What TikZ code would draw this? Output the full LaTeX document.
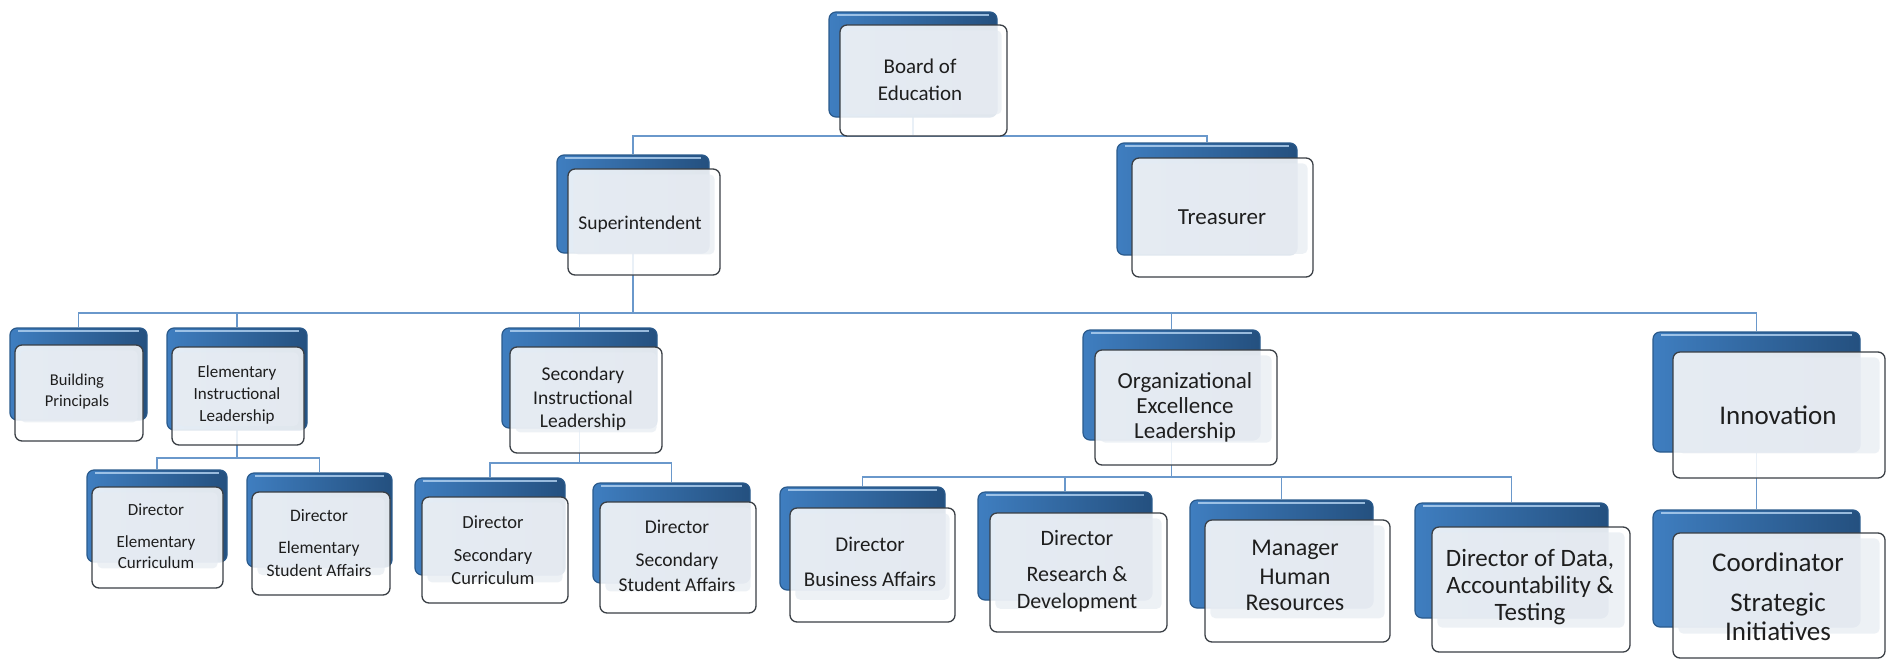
\documentclass[tikz,border=0pt]{standalone}
\usepackage{fontspec}
\setmainfont{Carlito}
\usetikzlibrary{backgrounds}
\definecolor{cardleft}{HTML}{3F7EC0}
\definecolor{cardmid}{HTML}{69A3DA}
\definecolor{cardright}{HTML}{24507F}
\definecolor{cardedge}{HTML}{2A5A8C}
\definecolor{hilitecol}{HTML}{B5D4F2}
\definecolor{frontedge}{HTML}{3A3F45}
\definecolor{panelfill}{HTML}{E6EBF2}
\definecolor{linkblue}{HTML}{6A98CB}
\definecolor{textcol}{HTML}{1E1E1E}
\tikzset{
  backcard/.style={rounded corners=7pt, left color=cardleft, middle color=cardmid, right color=cardright, draw=cardedge, line width=1.2pt, inner sep=0pt},
  hilite/.style={draw=hilitecol, line width=2pt, draw opacity=0.8},
  frontcard/.style={rounded corners=7pt, fill=white, fill opacity=0.86, draw=frontedge, line width=1.3pt, inner sep=0pt},
  panel/.style={rounded corners=5pt, fill=panelfill, fill opacity=0.7},
  link/.style={draw=linkblue, line width=1.6pt},
  lbl/.style={text=textcol, align=center, inner sep=0pt},
}
% #1 name, #2-#5 back card x1 y1 x2 y2, #6-#9 front card x1 y1 x2 y2
\newcommand\orgcard[9]{%
  \node[backcard, minimum width={(#4)-(#2)}, minimum height={(#5)-(#3)}] (#1B) at ({((#2)+(#4))/2},{((#3)+(#5))/2}) {};
  \draw[hilite] ([xshift=9pt,yshift=-4pt]#1B.north west) -- ([xshift=-9pt,yshift=-4pt]#1B.north east);
  \node[frontcard, minimum width={(#8)-(#6)}, minimum height={(#9)-(#7)}] (#1) at ({((#6)+(#8))/2},{((#7)+(#9))/2}) {};
  \fill[panel] ([xshift=6pt,yshift=-6pt]#1.north west) rectangle ([xshift=-6pt,yshift={0.2*((#9)-(#7))}]#1.south east);
}
\begin{document}
\begin{tikzpicture}[x=1pt,y=-1pt]
\useasboundingbox (0,0) rectangle (1892,662);

% level 0 / 1
\orgcard{board}{829}{12}{997}{117}{840}{25}{1007}{136}
\node[lbl, font={\fontsize{21}{27}\selectfont}] (boardT) at (920,80) {Board of\\Education};
\orgcard{sup}{557}{155}{709}{253}{568}{169}{720}{275}
\node[lbl, font={\fontsize{19.5}{24}\selectfont}] (supT) at (640,224) {Superintendent};
\orgcard{treas}{1117}{143}{1297}{255}{1132}{158}{1313}{277}
\node[lbl, font={\fontsize{23}{28}\selectfont}] (treasT) at (1222,217) {Treasurer};

% level 2
\orgcard{bp}{10}{328}{147}{420}{15}{345}{143}{441}
\node[lbl, font={\fontsize{16.5}{21}\selectfont}] (bpT) at (77,392) {Building\\Principals};
\orgcard{eil}{167}{328}{307}{430}{172}{347}{304}{445}
\node[lbl, font={\fontsize{17}{22}\selectfont}] (eilT) at (237,395) {Elementary\\Instructional\\Leadership};
\orgcard{sil}{502}{328}{657}{428}{510}{347}{662}{453}
\node[lbl, font={\fontsize{19.5}{23.5}\selectfont}] (silT) at (583,399) {Secondary\\Instructional\\Leadership};
\orgcard{org}{1083}{330}{1260}{440}{1095}{350}{1277}{465}
\node[lbl, font={\fontsize{23}{25}\selectfont}] (orgT) at (1185,407) {Organizational\\Excellence\\Leadership};
\orgcard{inn}{1653}{332}{1860}{452}{1673}{352}{1885}{478}
\node[lbl, font={\fontsize{27}{32}\selectfont}] (innT) at (1778,415) {Innovation};

% level 3
\orgcard{dec}{87}{470}{227}{562}{92}{487}{223}{588}
\node[lbl, font={\fontsize{17}{21}\selectfont}] (decT) at (156,536) {Director\\[11pt]Elementary\\Curriculum};
\orgcard{des}{247}{473}{392}{567}{252}{492}{390}{595}
\node[lbl, font={\fontsize{17.5}{23}\selectfont}] (desT) at (319,543) {Director\\[9pt]Elementary\\Student Affairs};
\orgcard{dsc}{415}{478}{565}{575}{422}{497}{568}{603}
\node[lbl, font={\fontsize{18.5}{23}\selectfont}] (dscT) at (493,550) {Director\\[10pt]Secondary\\Curriculum};
\orgcard{dss}{593}{483}{750}{583}{600}{502}{756}{613}
\node[lbl, font={\fontsize{19.5}{25}\selectfont}] (dssT) at (677,556) {Director\\[8pt]Secondary\\Student Affairs};
\orgcard{dba}{780}{487}{945}{590}{790}{508}{955}{622}
\node[lbl, font={\fontsize{21}{26}\selectfont}] (dbaT) at (870,562) {Director\\[9pt]Business Affairs};
\orgcard{drd}{978}{492}{1152}{600}{990}{513}{1167}{632}
\node[lbl, font={\fontsize{22}{27}\selectfont}] (drdT) at (1077,571) {Director\\[9pt]Research \&\\Development};
\orgcard{mhr}{1190}{500}{1373}{608}{1205}{520}{1390}{642}
\node[lbl, font={\fontsize{24}{26}\selectfont}] (mhrT) at (1295,575) {Manager\\[3pt]Human\\Resources};
\orgcard{dat}{1415}{503}{1608}{618}{1432}{527}{1630}{652}
\node[lbl, font={\fontsize{25}{27}\selectfont}] (datT) at (1530,587) {Director of Data,\\Accountability \&\\Testing};
\orgcard{coo}{1653}{510}{1860}{627}{1673}{533}{1885}{658}
\node[lbl, font={\fontsize{27}{29}\selectfont}] (cooT) at (1778,597) {Coordinator\\[11pt]Strategic\\Initiatives};

% bus lines
\coordinate (bus1) at (0,136);
\coordinate (bus2) at (0,313);
\coordinate (bus3) at (0,458);
\coordinate (bus4) at (0,463);
\coordinate (bus5) at (0,477);

\begin{scope}[on background layer]
  \draw[link] (boardB.center) -- (boardB.center |- bus1);
  \draw[link] (supB.north) -- (supB.north |- bus1) -| (treasB.north);

  \draw[link] (supB.center) -- (supB.center |- bus2);
  \draw[link] (bpB.north) -- (bpB.north |- bus2) -| (innB.north);
  \draw[link] (eilB.north) -- (eilB.north |- bus2);
  \draw[link] (silB.north) -- (silB.north |- bus2);
  \draw[link] (orgB.north) -- (orgB.north |- bus2);

  \draw[link] (eilB.center) -- (eilB.center |- bus3);
  \draw[link] (decB.north) -- (decB.north |- bus3) -| (desB.north);

  \draw[link] (silB.center) -- (silB.center |- bus4);
  \draw[link] (dscB.north) -- (dscB.north |- bus4) -| (dssB.north);

  \draw[link] (orgB.center) -- (orgB.center |- bus5);
  \draw[link] (dbaB.north) -- (dbaB.north |- bus5) -| (datB.north);
  \draw[link] (drdB.north) -- (drdB.north |- bus5);
  \draw[link] (mhrB.north) -- (mhrB.north |- bus5);

  \draw[link] (innB.center) -- (cooB.north);
\end{scope}
\end{tikzpicture}
\end{document}
